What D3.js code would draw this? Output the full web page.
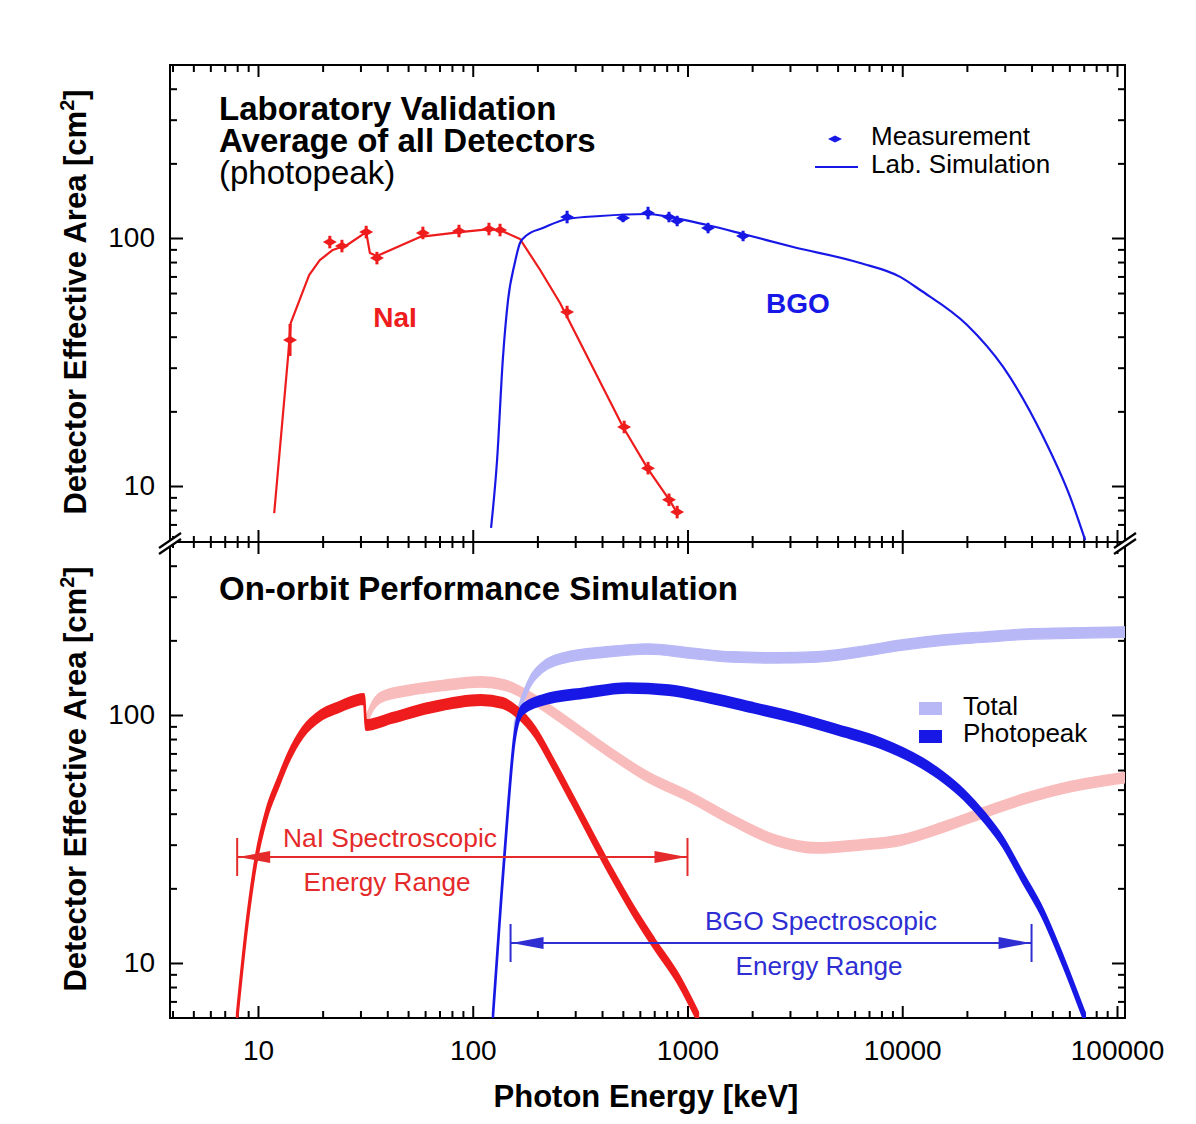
<!DOCTYPE html>
<html><head><meta charset="utf-8">
<script src="https://cdn.jsdelivr.net/npm/d3@7"></script>
<style>body{margin:0;background:#fff}</style>
</head><body>
<svg id="c" width="1196" height="1124"></svg>
<script>
// ---------------- DATA ----------------
const xTickValues = [10, 100, 1000, 10000, 100000];
const xTickLabels = ["10", "100", "1000", "10000", "100000"];
const yTickValues = [10, 100];
const yTickLabels = ["10", "100"];

// Laboratory validation (top panel): [energy keV, area cm2]
const labNaISim = [[11.9,7.78],[13.8,33.1],[14.2,45.4],[17.3,70.9],[19.4,81.5],[22.3,89.5],[26.0,93.7],[31.9,105.7],[33.2,87.0],[35.8,84.6],[56.8,101],[87.3,105.7],[120,108.7],[137,106.7],[166,99.1],[206,74.3],[255,54.7],[501,17.3],[655,11.7],[829,8.71],[895,7.78]];
const labBGOSim = [[121.7,6.78],[129.8,12.7],[138,32.2],[146,56.2],[157,79.3],[166,95.5],[179,102.8],[212,109.7],[275,119.3],[392,122.7],[648,125],[829,121.5],[1234,112.8],[1815,103.8],[3105,92.0],[6370,79.3],[9780,69.7],[12120,61.7],[20050,44.6],[29500,30.2],[45300,15.8],[60500,9.04],[71100,6.05]];
// measurements: [energy, area, relative error]
const labNaIMeas = [[14.1,38.8,0.16],[21.6,96.3,0.06],[24.6,92.8,0.06],[31.9,105.7,0.06],[35.8,83,0.06],[58.6,104.8,0.06],[86.3,106.7,0.06],[119,108.7,0.06],[134,107.7,0.06],[275,50.3,0.06],[507,17.3,0.06],[655,11.8,0.06],[820,8.8,0.06],[895,7.85,0.06]];
const labBGOMeas = [[275,121.5,0.06],[501,120.4,0.04],[655,126.1,0.06],[820,121.5,0.05],[895,117.1,0.05],[1247,109.7,0.05],[1815,101.9,0.05]];

// On-orbit simulation (bottom panel)
const orbitNaIPhotopeak = [[7.98,6.0],[8.93,14.9],[9.79,26.0],[11.0,40.3],[12.4,53.2],[13.9,67.7],[16.2,85.4],[19.7,100],[23.8,107.7],[31.2,116],[31.8,91.1],[42.1,97.3],[61.9,106.7],[109,115],[138,111.8],[161,102.8],[195,85.4],[236,64],[287,46.7],[418,25.3],[595,14.9],[699,12.0],[914,8.5],[1120,6.05]];
const orbitNaITotal = [[31.9,95],[34.5,110],[37.4,118],[51.1,126],[75.1,132],[109,136],[141,132],[185,118],[266,95.5],[418,72.3],[655,56.2],[1028,46.7],[1614,37.7],[2560,31.3],[4017,29.1],[6300,29.9],[9890,31.3],[15500,35.3],[24300,40.6],[38200,46.3],[59900,51.3],[110000,56]];
const orbitBGOPhotopeak = [[124,6.0],[135.5,17.9],[146,42],[156,79.3],[170,104.7],[212,115],[333,122.7],[523,128.5],[820,126],[1288,117],[2043,106.7],[3206,97.3],[5028,87.0],[7885,77.1],[12380,64.0],[15500,56.2],[19420,47.6],[24300,38.4],[29400,30.8],[36100,22.4],[45200,15.8],[56050,10.2],[70950,6.0]];
const orbitBGOTotal = [[156,88],[161,98.2],[185,136],[212,156],[266,170],[418,179.6],[655,184.6],[1028,177.8],[1614,171.4],[2560,170],[4017,171.4],[6300,179.6],[9890,191.4],[15500,200.5],[24300,206.3],[38200,212],[59900,214],[110000,216]];

// spectroscopic energy ranges [keV]
const naiRange = [8, 1000];
const bgoRange = [150, 40000];

// ---------------- LAYOUT ----------------
const L = 170, R = 1125, T = 65, M = 542, B = 1018;
const FONT = "'Liberation Sans', Arial, Helvetica, sans-serif";
const RED = "#ee1c1c", BLUE = "#1818e6", PINK = "#f9bcbc", LBLUE = "#b8b8f6";
const ARED = "#e42a2a", ABLUE = "#2e2ed2";

const svg = d3.select("#c").style("font-family", FONT);
const x = d3.scaleLog().domain([3.893, 108960]).range([L, R]);
const yTop = d3.scaleLog().domain([5.946, 498.5]).range([M, T]);
const yBot = d3.scaleLog().domain([6.0, 498.5]).range([B, M]);

const defs = svg.append("defs");
defs.append("clipPath").attr("id", "clipTop").append("rect").attr("x", L).attr("y", T).attr("width", R - L).attr("height", M - T);
defs.append("clipPath").attr("id", "clipBot").append("rect").attr("x", L).attr("y", M).attr("width", R - L).attr("height", B - M);

const isMajor = v => Math.abs(Math.log10(v) - Math.round(Math.log10(v))) < 1e-9;
const xMinor = x.ticks().filter(v => !isMajor(v) && x(v) > L + 1 && x(v) < R - 1);
const yTopMinor = yTop.ticks().filter(v => !isMajor(v) && yTop(v) > T + 1 && yTop(v) < M - 1);
const yBotMinor = yBot.ticks().filter(v => !isMajor(v) && yBot(v) > M + 1 && yBot(v) < B - 1);

function styleAxis(g) {
  g.select(".domain").remove();
  g.attr("color", "#000");
  g.selectAll(".tick line").attr("stroke-width", 2);
  g.selectAll(".tick text").attr("font-size", 28).attr("font-family", FONT);
}

// x ticks: top frame (inward / down)
svg.append("g").attr("transform", `translate(0,${T})`).call(d3.axisTop(x).tickValues(xTickValues).tickSize(-12).tickFormat("")).call(styleAxis);
svg.append("g").attr("transform", `translate(0,${T})`).call(d3.axisTop(x).tickValues(xMinor).tickSize(-7).tickFormat("")).call(styleAxis);
// middle axis (both sides)
svg.append("g").attr("transform", `translate(0,${M})`).call(d3.axisTop(x).tickValues(xTickValues).tickSize(12).tickFormat("")).call(styleAxis);
svg.append("g").attr("transform", `translate(0,${M})`).call(d3.axisBottom(x).tickValues(xTickValues).tickSize(12).tickFormat("")).call(styleAxis);
svg.append("g").attr("transform", `translate(0,${M})`).call(d3.axisTop(x).tickValues(xMinor).tickSize(6).tickFormat("")).call(styleAxis);
svg.append("g").attr("transform", `translate(0,${M})`).call(d3.axisBottom(x).tickValues(xMinor).tickSize(6).tickFormat("")).call(styleAxis);
// bottom axis with labels
svg.append("g").attr("transform", `translate(0,${B})`).call(d3.axisBottom(x).tickValues(xTickValues).tickSize(-12).tickPadding(22).tickFormat((d, i) => xTickLabels[i])).call(styleAxis);
svg.append("g").attr("transform", `translate(0,${B})`).call(d3.axisBottom(x).tickValues(xMinor).tickSize(-7).tickFormat("")).call(styleAxis);

// y ticks
[[yTop, yTopMinor], [yBot, yBotMinor]].forEach(([ys, minor]) => {
  svg.append("g").attr("transform", `translate(${L},0)`).call(d3.axisLeft(ys).tickValues(yTickValues).tickSize(-13).tickPadding(15).tickFormat((d, i) => yTickLabels[i])).call(styleAxis);
  svg.append("g").attr("transform", `translate(${L},0)`).call(d3.axisLeft(ys).tickValues(minor).tickSize(-7).tickFormat("")).call(styleAxis);
  svg.append("g").attr("transform", `translate(${R},0)`).call(d3.axisRight(ys).tickValues(yTickValues).tickSize(-13).tickFormat("")).call(styleAxis);
  svg.append("g").attr("transform", `translate(${R},0)`).call(d3.axisRight(ys).tickValues(minor).tickSize(-7).tickFormat("")).call(styleAxis);
});

// frame
svg.append("path").attr("d", `M${L},${M}V${T}H${R}V${M}M${L},${M}H${R}M${L},${M}V${B}H${R}V${M}`)
  .attr("fill", "none").attr("stroke", "#000").attr("stroke-width", 2);

// axis breaks
[L, R].forEach(cx => {
  const cy = M;
  svg.append("path").attr("d", `M${cx-11},${cy+6}L${cx+11},${cy-9}L${cx+11},${cy-3}L${cx-11},${cy+12}Z`).attr("fill", "#fff");
  svg.append("line").attr("x1", cx - 11).attr("y1", cy + 6).attr("x2", cx + 11).attr("y2", cy - 9).attr("stroke", "#000").attr("stroke-width", 2.2);
  svg.append("line").attr("x1", cx - 11).attr("y1", cy + 12).attr("x2", cx + 11).attr("y2", cy - 3).attr("stroke", "#000").attr("stroke-width", 2.2);
});

// ---------------- TOP PANEL ----------------
const gTop = svg.append("g").attr("clip-path", "url(#clipTop)");
const lineTop = d3.line().x(d => x(d[0])).y(d => yTop(d[1]));
const lineTopSmooth = d3.line().x(d => x(d[0])).y(d => yTop(d[1])).curve(d3.curveMonotoneX);
gTop.append("path").datum(labNaISim).attr("d", lineTop).attr("fill", "none").attr("stroke", RED).attr("stroke-width", 2.2).attr("stroke-linejoin", "round");
gTop.append("path").datum(labBGOSim).attr("d", lineTopSmooth).attr("fill", "none").attr("stroke", BLUE).attr("stroke-width", 2.2).attr("stroke-linejoin", "round");

function drawMeas(g, data, color) {
  data.forEach(d => {
    const cx = x(d[0]), cy = yTop(d[1]);
    const y1 = yTop(d[1] * (1 + d[2])), y2 = yTop(d[1] / (1 + d[2]));
    g.append("line").attr("x1", cx).attr("x2", cx).attr("y1", y1).attr("y2", y2).attr("stroke", color).attr("stroke-width", 3);
    g.append("path").attr("d", `M${cx-7},${cy}L${cx},${cy-4}L${cx+7},${cy}L${cx},${cy+4}Z`).attr("fill", color);
  });
}
drawMeas(gTop, labNaIMeas, RED);
drawMeas(gTop, labBGOMeas, BLUE);

// titles
svg.append("text").attr("x", 219).attr("y", 120).attr("font-size", 33).attr("font-weight", "bold").text("Laboratory Validation");
svg.append("text").attr("x", 219).attr("y", 152).attr("font-size", 33).attr("font-weight", "bold").text("Average of all Detectors");
svg.append("text").attr("x", 219).attr("y", 184).attr("font-size", 33).text("(photopeak)");
svg.append("text").attr("x", 395).attr("y", 327).attr("font-size", 28).attr("font-weight", "bold").attr("fill", RED).attr("text-anchor", "middle").text("NaI");
svg.append("text").attr("x", 798).attr("y", 313).attr("font-size", 28).attr("font-weight", "bold").attr("fill", BLUE).attr("text-anchor", "middle").text("BGO");

// top legend
svg.append("path").attr("d", `M${828},${139}L${835},${135.5}L${842},${139}L${835},${142.5}Z`).attr("fill", BLUE);
svg.append("text").attr("x", 871).attr("y", 145).attr("font-size", 26).text("Measurement");
svg.append("line").attr("x1", 815).attr("x2", 858).attr("y1", 167).attr("y2", 167).attr("stroke", BLUE).attr("stroke-width", 2.2);
svg.append("text").attr("x", 871).attr("y", 173).attr("font-size", 26).text("Lab. Simulation");

// ---------------- BOTTOM PANEL ----------------
const gBot = svg.append("g").attr("clip-path", "url(#clipBot)");
const kPeak = 1.046, kTot = 1.05;
const band = k => d3.area().x(d => x(d[0])).y0(d => yBot(d[1] / k)).y1(d => yBot(d[1] * k)).curve(d3.curveMonotoneX);
function drawBand(data, k, color, sw) {
  gBot.append("path").datum(data).attr("d", band(k)).attr("fill", color).attr("stroke", color).attr("stroke-width", sw).attr("stroke-linejoin", "round");
}
drawBand(orbitNaITotal, kTot, PINK, 1.2);
drawBand(orbitBGOTotal, kTot, LBLUE, 1.2);
drawBand(orbitNaIPhotopeak, kPeak, RED, 2.2);
drawBand(orbitBGOPhotopeak, kPeak, BLUE, 2);

svg.append("text").attr("x", 219).attr("y", 600).attr("font-size", 33).attr("font-weight", "bold").text("On-orbit Performance Simulation");

// bottom legend
svg.append("rect").attr("x", 919).attr("y", 702).attr("width", 23).attr("height", 13).attr("fill", LBLUE);
svg.append("rect").attr("x", 919).attr("y", 730).attr("width", 23).attr("height", 13).attr("fill", BLUE);
svg.append("text").attr("x", 963).attr("y", 715).attr("font-size", 26).text("Total");
svg.append("text").attr("x", 963).attr("y", 742).attr("font-size", 26).text("Photopeak");

// range arrows
function rangeArrow(range, yy, color, t1, t2, y1, y2, w1, w2) {
  const a = x(range[0]), b = x(range[1]);
  const g = svg.append("g");
  g.append("line").attr("x1", a).attr("x2", b).attr("y1", yy).attr("y2", yy).attr("stroke", color).attr("stroke-width", 2);
  [a, b].forEach(p => g.append("line").attr("x1", p).attr("x2", p).attr("y1", yy - 19).attr("y2", yy + 19).attr("stroke", color).attr("stroke-width", 2));
  g.append("path").attr("d", `M${a+1},${yy}L${a+33},${yy-6}L${a+33},${yy+6}Z`).attr("fill", color);
  g.append("path").attr("d", `M${b-1},${yy}L${b-33},${yy-6}L${b-33},${yy+6}Z`).attr("fill", color);
  g.append("text").attr("x", t1[0]).attr("y", y1).attr("font-size", 25).attr("fill", color).attr("text-anchor", "middle")
    .attr("textLength", w1).attr("lengthAdjust", "spacingAndGlyphs").text(t1[1]);
  g.append("text").attr("x", t2[0]).attr("y", y2).attr("font-size", 25).attr("fill", color).attr("text-anchor", "middle")
    .attr("textLength", w2).attr("lengthAdjust", "spacingAndGlyphs").text(t2[1]);
}
rangeArrow(naiRange, 857, ARED, [390, "NaI Spectroscopic"], [387, "Energy Range"], 847, 891, 214, 167);
rangeArrow(bgoRange, 943, ABLUE, [821, "BGO Spectroscopic"], [819, "Energy Range"], 930, 975, 232, 167);

// axis titles
function yLabel(cy) {
  const t = svg.append("text").attr("transform", `translate(86,${cy}) rotate(-90)`).attr("text-anchor", "middle")
    .attr("font-size", 31).attr("font-weight", "bold");
  t.append("tspan").text("Detector Effective Area [cm");
  t.append("tspan").attr("dy", -12).attr("font-size", 20).text("2");
  t.append("tspan").attr("dy", 12).text("]");
}
yLabel(302);
yLabel(779);
svg.append("text").attr("x", 646).attr("y", 1107).attr("text-anchor", "middle").attr("font-size", 31).attr("font-weight", "bold").text("Photon Energy [keV]");
</script>
</body></html>
